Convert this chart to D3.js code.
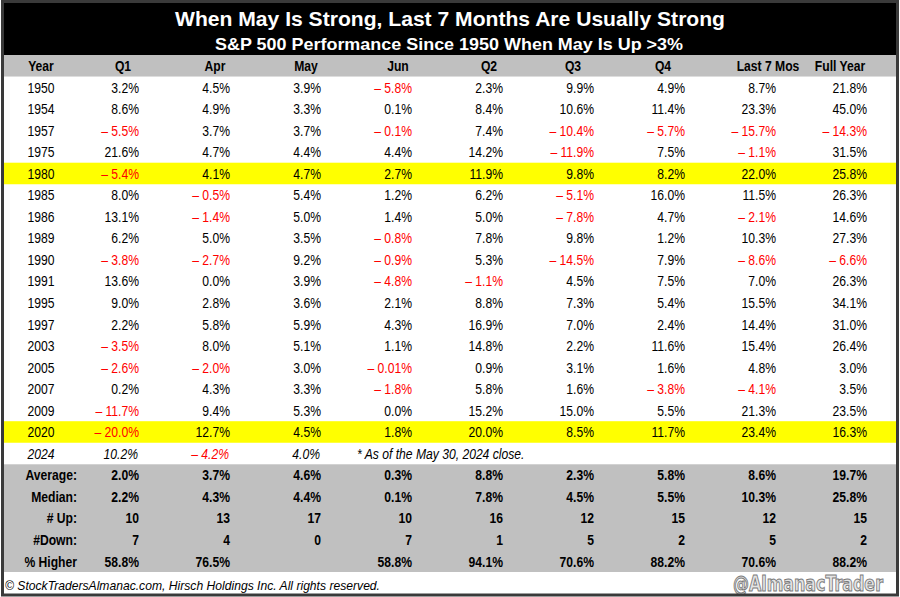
<!DOCTYPE html>
<html><head><meta charset="utf-8">
<script src="https://cdn.jsdelivr.net/npm/d3@7"></script>
<style>
body{margin:0;background:#fff}
svg{display:block;font-family:"Liberation Sans",Arial,Helvetica,sans-serif}
</style>
</head><body>
<svg id="chart" width="900" height="597"></svg>
<script>
// ---------------- DATA ----------------
const title = "When May Is Strong, Last 7 Months Are Usually Strong";
const subtitle = "S&P 500 Performance Since 1950 When May Is Up >3%";
const columns = ["Q1","Apr","May","Jun","Q2","Q3","Q4","Last 7 Mos","Full Year"];
const years = [1950,1954,1957,1975,1980,1985,1986,1989,1990,1991,1995,1997,2003,2005,2007,2009,2020];
const q1      = [3.2, 8.6, -5.5, 21.6, -5.4, 8.0, 13.1, 6.2, -3.8, 13.6, 9.0, 2.2, -3.5, -2.6, 0.2, -11.7, -20.0];
const apr     = [4.5, 4.9, 3.7, 4.7, 4.1, -0.5, -1.4, 5.0, -2.7, 0.0, 2.8, 5.8, 8.0, -2.0, 4.3, 9.4, 12.7];
const may     = [3.9, 3.3, 3.7, 4.4, 4.7, 5.4, 5.0, 3.5, 9.2, 3.9, 3.6, 5.9, 5.1, 3.0, 3.3, 5.3, 4.5];
const jun     = [-5.8, 0.1, -0.1, 4.4, 2.7, 1.2, 1.4, -0.8, -0.9, -4.8, 2.1, 4.3, 1.1, -0.01, -1.8, 0.0, 1.8];
const q2      = [2.3, 8.4, 7.4, 14.2, 11.9, 6.2, 5.0, 7.8, 5.3, -1.1, 8.8, 16.9, 14.8, 0.9, 5.8, 15.2, 20.0];
const q3      = [9.9, 10.6, -10.4, -11.9, 9.8, -5.1, -7.8, 9.8, -14.5, 4.5, 7.3, 7.0, 2.2, 3.1, 1.6, 15.0, 8.5];
const q4      = [4.9, 11.4, -5.7, 7.5, 8.2, 16.0, 4.7, 1.2, 7.9, 7.5, 5.4, 2.4, 11.6, 1.6, -3.8, 5.5, 11.7];
const last7   = [8.7, 23.3, -15.7, -1.1, 22.0, 11.5, -2.1, 10.3, -8.6, 7.0, 15.5, 14.4, 15.4, 4.8, -4.1, 21.3, 23.4];
const fullYear= [21.8, 45.0, -14.3, 31.5, 25.8, 26.3, 14.6, 27.3, -6.6, 26.3, 34.1, 31.0, 26.4, 3.0, 3.5, 23.5, 16.3];
const highlightYears = [1980, 2020];

const currentYear = 2024;
const currentValues = [10.2, -4.2, 4.0];
const currentNote = "* As of the May 30, 2024 close.";

const statLabels = ["Average:","Median:","# Up:","#Down:","% Higher"];
const average   = [2.0, 3.7, 4.6, 0.3, 8.8, 2.3, 5.8, 8.6, 19.7];
const median    = [2.2, 4.3, 4.4, 0.1, 7.8, 4.5, 5.5, 10.3, 25.8];
const numUp     = [10, 13, 17, 10, 16, 12, 15, 12, 15];
const numDown   = [7, 4, 0, 7, 1, 5, 2, 5, 2];
const pctHigher = [58.8, 76.5, null, 58.8, 94.1, 70.6, 88.2, 70.6, 88.2];

const footer = "\u00A9 StockTradersAlmanac.com, Hirsch Holdings Inc. All rights reserved.";
const watermark = "@AlmanacTrader";

// ---------------- LAYOUT ----------------
const W = 900, H = 597;
const SX = 0.81;              // horizontal squeeze of the table text
const svg = d3.select("#chart");
const series = [q1, apr, may, jun, q2, q3, q4, last7, fullYear];
const stats = [average, median, numUp, numDown, pctHigher];

const colRight = d3.scalePoint().domain(columns).range([139, 867]);
const headerOffset = [16, 15, 15, 14, 14, 21, 22, 8, 27];
const yearX = 41, labelRight = 77;

const tableTop = 55, tableBottom = 572;
const nRows = 1 + years.length + 1 + stats.length;
const row = d3.scaleLinear().domain([0, nRows]).range([tableTop, tableBottom]);
const rowH = row(1) - row(0);
const base = i => row(i) + rowH / 2 + 5.3;

function fmt(v) {
  if (v == null) return "";
  const dec = Math.abs(Math.round(v * 10) - v * 10) > 1e-6 ? 2 : 1;
  return (v < 0 ? "\u2013 " : "") + Math.abs(v).toFixed(dec) + "%";
}
function txt(x, y, s, opts = {}) {
  const t = svg.append("text")
    .attr("transform", `translate(${x},${y}) scale(${opts.sx || SX},1)`)
    .attr("text-anchor", opts.anchor || "end")
    .attr("font-size", opts.size || 15)
    .attr("font-weight", opts.bold ? "bold" : "normal")
    .attr("font-style", opts.italic ? "italic" : "normal")
    .attr("fill", opts.fill || "#000")
    .text(s);
  if (opts.len) t.attr("textLength", opts.len).attr("lengthAdjust", "spacingAndGlyphs");
  return t;
}

// background
svg.append("rect").attr("width", W).attr("height", H).attr("fill", "#fff");

// title band
svg.append("rect").attr("x", 3).attr("y", 2).attr("width", 894).attr("height", tableTop - 2).attr("fill", "#000");
txt(450, 26, title, {anchor: "middle", size: 21, bold: true, fill: "#fff", sx: 1, len: 550});
txt(449, 49.5, subtitle, {anchor: "middle", size: 16.5, bold: true, fill: "#fff", sx: 1, len: 468});

// header row
svg.append("rect").attr("x", 3).attr("y", row(0)).attr("width", 894).attr("height", rowH).attr("fill", "#c0c0c0");
txt(yearX, base(0), "Year", {anchor: "middle", bold: true});
columns.forEach((c, j) => txt(colRight(c) - headerOffset[j], base(0), c, {anchor: "middle", bold: true}));

// year rows
years.forEach((yr, i) => {
  const r = i + 1;
  if (highlightYears.includes(yr)) {
    svg.append("rect").attr("x", 3).attr("y", row(r)).attr("width", 894).attr("height", rowH).attr("fill", "#ffff00");
  }
  txt(yearX, base(r), yr, {anchor: "middle"});
  columns.forEach((c, j) => {
    const v = series[j][i];
    txt(colRight(c), base(r), fmt(v), {fill: v < 0 ? "#ff0000" : "#000"});
  });
});

// current year row
const rc = years.length + 1;
txt(yearX, base(rc), currentYear, {anchor: "middle", italic: true});
currentValues.forEach((v, j) => {
  txt(colRight(columns[j]) - 1, base(rc), fmt(v), {italic: true, fill: v < 0 ? "#ff0000" : "#000"});
});
txt(357, base(rc), currentNote, {anchor: "start", italic: true});

// stats block
const rs = rc + 1;
svg.append("rect").attr("x", 3).attr("y", row(rs)).attr("width", 894).attr("height", row(nRows) - row(rs)).attr("fill", "#c0c0c0");
stats.forEach((arr, k) => {
  const r = rs + k;
  txt(labelRight, base(r), statLabels[k], {bold: true});
  columns.forEach((c, j) => {
    const v = arr[j];
    const s = (k === 2 || k === 3) ? String(v) : fmt(v);
    txt(colRight(c), base(r), s, {bold: true});
  });
});

// footer
txt(5, 589.5, footer, {anchor: "start", size: 13.5, italic: true, sx: 1, len: 375});
svg.append("text")
  .attr("x", 733).attr("y", 590.5)
  .attr("font-family", "'Liberation Sans Narrow','DejaVu Sans Condensed',sans-serif")
  .attr("font-weight", "bold")
  .attr("font-size", 22)
  .attr("textLength", 150).attr("lengthAdjust", "spacingAndGlyphs")
  .attr("fill", "#e4e4e4").attr("stroke", "#7a7a7a").attr("stroke-width", 1)
  .text(watermark);

// outer frame
svg.append("rect").attr("x", 2.5).attr("y", 1.5).attr("width", 895).attr("height", 593.5)
  .attr("fill", "none").attr("stroke", "#3a3a3a").attr("stroke-width", 3);
</script>
</body></html>
